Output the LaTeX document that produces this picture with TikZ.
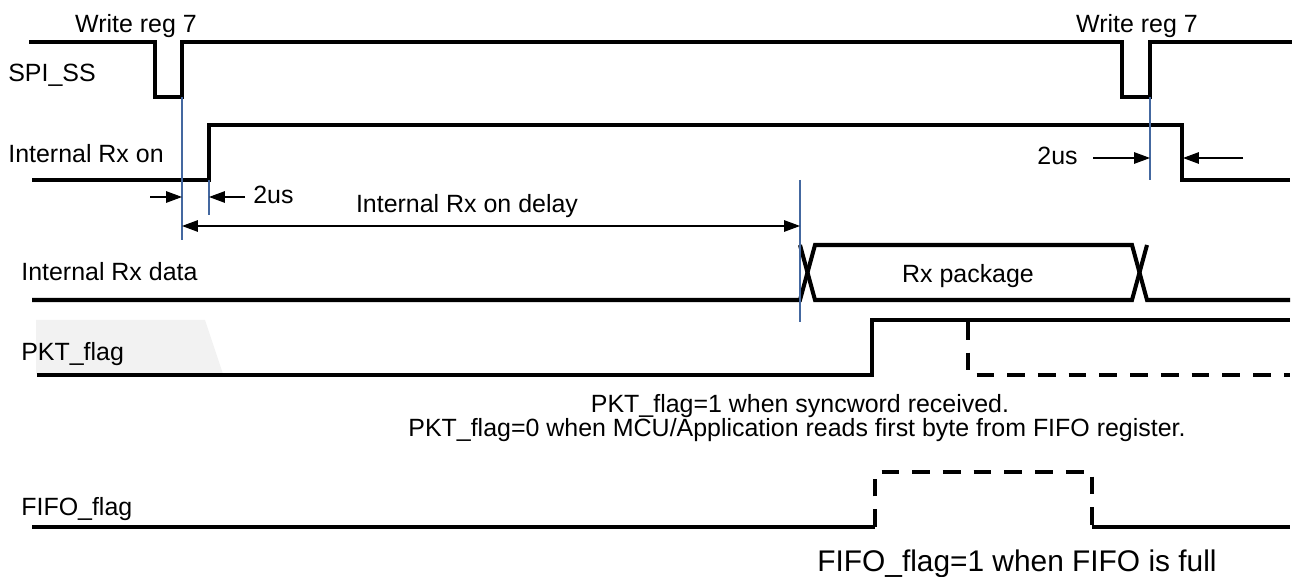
\documentclass[tikz,border=0pt]{standalone}
\usepackage{fontspec}
\setmainfont{Liberation Sans}
\usetikzlibrary{arrows.meta}

\definecolor{guideblue}{RGB}{68,104,160}
\definecolor{shadegray}{RGB}{242,242,242}

\begin{document}
\begin{tikzpicture}[x=0.02cm, y=-0.02cm,
    wave/.style={line width=2.3pt, line join=miter},
    wavedash/.style={wave, dash pattern=on 10pt off 7.5pt},
    guide/.style={guideblue, line width=0.8pt},
    dimarrow/.style={line width=0.7pt, -{Triangle[length=9pt,width=6.5pt]}},
    dimboth/.style={line width=0.7pt, {Triangle[length=9pt,width=6.5pt]}-{Triangle[length=9pt,width=6.5pt]}},
    lbl/.style={font=\fontsize{14.2}{17}\selectfont, inner sep=0pt}]
    \useasboundingbox (0,0) rectangle (1295,577);

    \fill[shadegray] (36,320) -- (205,320) -- (223,374) -- (36,374) -- cycle;

    % signal names
    \node[lbl, anchor=base west] (spiss) at (8,82) {SPI\_SS};
    \node[lbl, anchor=base west] (rxon) at (8,163) {Internal Rx on};
    \node[lbl, anchor=base west] (rxdata) at (21,281) {Internal Rx data};
    \node[lbl, anchor=base west] (pktflag) at (21,361) {PKT\_flag};
    \node[lbl, anchor=base west] (fifoflag) at (21,515) {FIFO\_flag};

    % SPI_SS
    \draw[wave] (29,42) -- (155,42) -- (155,97) -- (182,97) -- (182,42) -- (1122,42)
        -- (1122,97) -- (1150,97) -- (1150,42) -- (1292,42);
    \node[lbl, anchor=base] (wr1) at (136,33) {Write reg 7};
    \node[lbl, anchor=base] (wr2) at (1137,33) {Write reg 7};

    % Internal Rx on
    \draw[wave] (32,180) -- (209,180) -- (209,125) -- (1182,125) -- (1182,180) -- (1290,180);

    % Internal Rx data
    \draw[wave] (32,300) -- (800,300) -- (815,245) -- (1132,245) -- (1147,300) -- (1290,300);
    \draw[wave] (800,245) -- (815,300) -- (1132,300) -- (1147,245);
    \node[lbl, anchor=base] (rxpkg) at (968,283) {Rx package};

    % PKT_flag
    \draw[wave] (37,375) -- (872,375) -- (872,320) -- (1290,320);
    \draw[wavedash] (968,322) -- (968,375) -- (1290,375);
    \node[lbl, anchor=base] (pkt1) at (800,413) {PKT\_flag=1 when syncword received.};
    \node[lbl, anchor=base] (pkt0) at (797,437) {PKT\_flag=0 when MCU/Application reads first byte from FIFO register.};

    % FIFO_flag
    \draw[wave] (32,527) -- (875,527);
    \draw[wavedash] (875,527) -- (875,472) -- (1092,472) -- (1092,527);
    \draw[wave] (1092,527) -- (1290,527);
    \node[lbl, font=\fontsize{17}{20}\selectfont, anchor=base west] (fifo1) at (817,571) {FIFO\_flag=1 when FIFO is full};

    % guide lines
    \coordinate (gA) at (182,240);
    \coordinate (gB) at (209,215);
    \coordinate (gC) at (800,322);
    \coordinate (gD) at (1150,180);
    \draw[guide] (182,97) -- (gA);
    \draw[guide] (209,180) -- (gB);
    \draw[guide] (800,180) -- (gC);
    \draw[guide] (1150,97) -- (gD);

    % 2us, left
    \coordinate (l1) at (150,197);
    \coordinate (l2) at (182,197);
    \coordinate (l3) at (245,197);
    \coordinate (l4) at (209,197);
    \draw[dimarrow] (l1) -- (l2);
    \draw[dimarrow] (l3) -- (l4);
    \node[lbl, anchor=base west] (us1) at (253,204) {2us};

    % delay
    \coordinate (dA) at (182,226);
    \coordinate (dB) at (800,226);
    \draw[dimboth] (dA) -- (dB);
    \node[lbl, anchor=base] (delay) at (467,213) {Internal Rx on delay};

    % 2us, right
    \node[lbl, anchor=base east] (us2) at (1078,165) {2us};
    \coordinate (r1) at (1093,158);
    \coordinate (r2) at (1150,158);
    \coordinate (r3) at (1243,158);
    \coordinate (r4) at (1183,158);
    \draw[dimarrow] (r1) -- (r2);
    \draw[dimarrow] (r3) -- (r4);
\end{tikzpicture}
\end{document}
